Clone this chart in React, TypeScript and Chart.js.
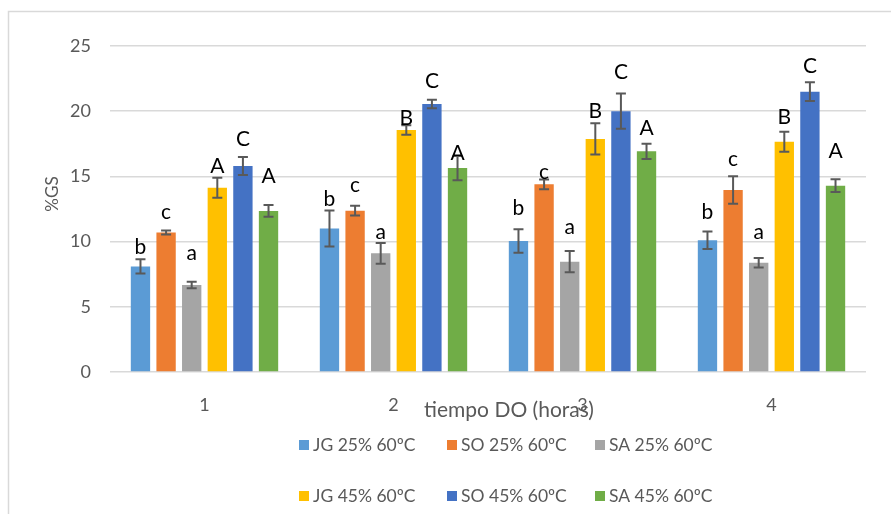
import React, { useEffect, useRef } from "react";
import { Chart, registerables } from "chart.js";

Chart.register(...registerables);

const categories = ["1", "2", "3", "4"];
const seriesNames = ["JG 25% 60ºC", "SO 25% 60ºC", "SA 25% 60ºC", "JG 45% 60ºC", "SO 45% 60ºC", "SA 45% 60ºC"];
const seriesColors = ["#5B9BD5", "#ED7D31", "#A5A5A5", "#FFC000", "#4472C4", "#70AD47"];

const jg25 = [8.1, 11.0, 10.05, 10.1];
const so25 = [10.7, 12.37, 14.39, 13.96];
const sa25 = [6.67, 9.1, 8.46, 8.38];
const jg45 = [14.13, 18.56, 17.87, 17.66];
const so45 = [15.8, 20.55, 20.0, 21.5];
const sa45 = [12.35, 15.64, 16.92, 14.29];

const jg25Err = [0.55, 1.38, 0.9, 0.67];
const so25Err = [0.15, 0.37, 0.38, 1.05];
const sa25Err = [0.25, 0.8, 0.82, 0.36];
const jg45Err = [0.77, 0.37, 1.2, 0.77];
const so45Err = [0.69, 0.33, 1.35, 0.72];
const sa45Err = [0.45, 0.93, 0.58, 0.49];

const jg25Letters = ["b", "b", "b", "b"];
const so25Letters = ["c", "c", "c", "c"];
const sa25Letters = ["a", "a", "a", "a"];
const jg45Letters = ["A", "B", "B", "B"];
const so45Letters = ["C", "C", "C", "C"];
const sa45Letters = ["A", "A", "A", "A"];

// letter heights (in %GS units)
const jg25LetterAt = [9.66, 13.32, 12.63, 12.29];
const so25LetterAt = [12.19, 14.21, 15.24, 16.2];
const sa25LetterAt = [8.97, 10.58, 10.97, 10.58];
const jg45LetterAt = [15.87, 19.5, 20.09, 19.58];
const so45LetterAt = [17.94, 22.39, 23.08, 23.54];
const sa45LetterAt = [15.1, 16.8, 18.77, 16.97];

const yTicks = [0, 5, 10, 15, 20, 25];
const xTitle = "tiempo DO (horas)";
const yTitle = "%GS";

const values = [jg25, so25, sa25, jg45, so45, sa45];
const errors = [jg25Err, so25Err, sa25Err, jg45Err, so45Err, sa45Err];
const letters = [jg25Letters, so25Letters, sa25Letters, jg45Letters, so45Letters, sa45Letters];
const letterAt = [jg25LetterAt, so25LetterAt, sa25LetterAt, jg45LetterAt, so45LetterAt, sa45LetterAt];

const FONT = "Lato, 'Open Sans', sans-serif";
const GRAY = "#595959";

const extrasPlugin = {
  id: "extras",
  beforeDraw(chart: any) {
    const ctx = chart.ctx;
    ctx.save();
    ctx.fillStyle = "#ffffff";
    ctx.fillRect(0, 0, chart.width, chart.height);
    ctx.strokeStyle = "#d9d9d9";
    ctx.lineWidth = 1.5;
    ctx.beginPath();
    ctx.moveTo(8.5, chart.height);
    ctx.lineTo(8.5, 11.5);
    ctx.lineTo(chart.width, 11.5);
    ctx.stroke();
    ctx.restore();
  },
  afterDatasetsDraw(chart: any) {
    const ctx = chart.ctx;
    const y = chart.scales.y;
    ctx.save();
    // error bars
    chart.data.datasets.forEach((ds: any, di: number) => {
      const meta = chart.getDatasetMeta(di);
      meta.data.forEach((bar: any, i: number) => {
        const v = values[di][i];
        const e = errors[di][i];
        const x = bar.x;
        const yTop = y.getPixelForValue(v + e);
        const yBot = y.getPixelForValue(v - e);
        ctx.strokeStyle = GRAY;
        ctx.lineWidth = 2;
        ctx.beginPath();
        ctx.moveTo(x, yTop);
        ctx.lineTo(x, yBot);
        ctx.moveTo(x - 5, yTop);
        ctx.lineTo(x + 5, yTop);
        ctx.moveTo(x - 5, yBot);
        ctx.lineTo(x + 5, yBot);
        ctx.stroke();
      });
    });
    // letters
    const fs = 21;
    ctx.font = `${fs}px ${FONT}`;
    ctx.fillStyle = "#000000";
    ctx.textAlign = "center";
    ctx.textBaseline = "alphabetic";
    chart.data.datasets.forEach((ds: any, di: number) => {
      const meta = chart.getDatasetMeta(di);
      meta.data.forEach((bar: any, i: number) => {
        const L = letters[di][i];
        const small = L === "a" || L === "c";
        const cy = y.getPixelForValue(letterAt[di][i]);
        ctx.fillText(L, bar.x, cy + (small ? 0.26 : 0.36) * fs);
      });
    });
    ctx.restore();
  },
  afterDraw(chart: any) {
    const ctx = chart.ctx;
    ctx.save();
    ctx.fillStyle = GRAY;
    // x title
    ctx.font = `21px ${FONT}`;
    ctx.textAlign = "center";
    ctx.textBaseline = "middle";
    ctx.fillText(xTitle, 509, 410);
    // y title
    ctx.save();
    ctx.translate(53, 194);
    ctx.rotate(-Math.PI / 2);
    ctx.font = `17px ${FONT}`;
    ctx.fillText(yTitle, 0, 0);
    ctx.restore();
    // legend
    ctx.font = `17.5px ${FONT}`;
    ctx.textAlign = "left";
    ctx.textBaseline = "middle";
    chart.data.datasets.forEach((ds: any, di: number) => {
      const col = di % 3;
      const row = Math.floor(di / 3);
      const bx = 299 + col * 148;
      const by = 445 + row * 51;
      ctx.fillStyle = ds.backgroundColor;
      ctx.fillRect(bx, by - 5, 10, 10);
      ctx.fillStyle = GRAY;
      ctx.fillText(ds.label, bx + 14, by);
    });
    ctx.restore();
  },
};

export default function App() {
  const ref = useRef<HTMLCanvasElement>(null);
  useEffect(() => {
    if (!ref.current) return;
    const chart = new Chart(ref.current, {
      type: "bar",
      data: {
        labels: categories,
        datasets: seriesNames.map((name, i) => ({
          label: name,
          data: values[i],
          backgroundColor: seriesColors[i],
          borderWidth: 0,
          categoryPercentage: 0.813,
          barPercentage: 0.755,
        })),
      },
      options: {
        animation: false,
        responsive: false,
        maintainAspectRatio: false,
        layout: { padding: { top: 46, right: 25, left: 0, bottom: 0 } },
        plugins: { legend: { display: false }, tooltip: { enabled: false }, title: { display: false } },
        scales: {
          x: {
            grid: { display: false },
            border: { display: false },
            ticks: { color: GRAY, font: { family: FONT, size: 18 }, padding: 14 },
            afterFit: (s: any) => {
              s.height = 142;
            },
          },
          y: {
            min: 0,
            max: 25,
            afterBuildTicks: (s: any) => {
              s.ticks = yTicks.map((v) => ({ value: v }));
            },
            grid: { color: "#d9d9d9", lineWidth: 1.5, drawTicks: false },
            border: { display: false },
            ticks: { color: GRAY, font: { family: FONT, size: 18 }, padding: 19 },
            afterFit: (s: any) => {
              s.width = 110;
            },
          },
        },
      },
      plugins: [extrasPlugin],
    });
    return () => chart.destroy();
  }, []);
  return (
    <div style={{ position: "fixed", left: 0, top: 0, width: 891, height: 514, background: "#fff" }}>
      <canvas ref={ref} width={891} height={514} style={{ width: 891, height: 514, display: "block" }} />
    </div>
  );
}
